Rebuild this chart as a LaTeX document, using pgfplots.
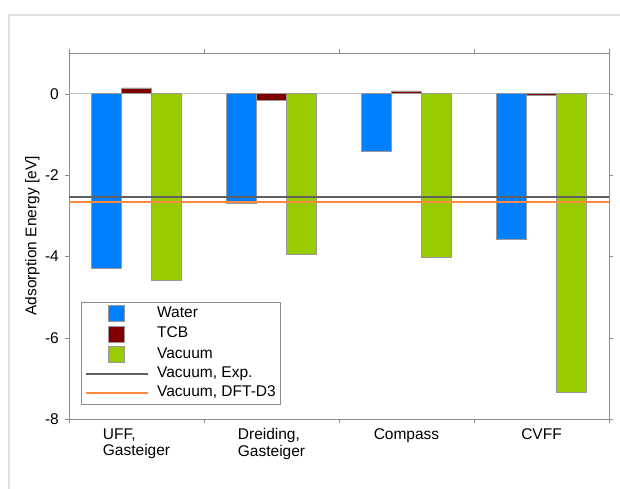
\documentclass[border=0pt]{standalone}
\usepackage{pgfplots}
\usepackage{pgfplotstable}
\pgfplotsset{compat=1.18}
\usepackage{fontspec}
\setmainfont{Liberation Sans}
\definecolor{cWater}{RGB}{0,128,255}
\definecolor{cTCB}{RGB}{128,0,0}
\definecolor{cVac}{RGB}{153,204,0}
\definecolor{cExp}{RGB}{96,96,96}
\definecolor{cDFT}{RGB}{255,136,64}
\pgfplotstableread{
x water tcb vacuum
0 -4.29 0.14 -4.58
1 -2.70 -0.15 -3.94
2 -1.41 0.07 -4.03
3 -3.58 -0.05 -7.33
}\datatable
\begin{document}
\fontsize{15}{17}\selectfont
\begin{tikzpicture}[x=1pt,y=1pt]
\useasboundingbox (0,0) rectangle (620,489);
\draw[black!12, line width=1.2pt] (9,0) -- (9,474) -- (620,474);
\begin{axis}[
  at={(69pt,70pt)}, anchor=south west,
  scale only axis, width=540pt, height=366pt,
  xmin=-0.5, xmax=3.5, ymin=-8, ymax=1,
  /pgf/number format/assume math mode=true,
  font=\fontsize{15.5}{17}\selectfont,
  axis line style={black!45, line width=0.8pt},
  xtick={0,1,2,3},
  xticklabels={{UFF,\\Gasteiger},{Dreiding,\\Gasteiger},{Compass},{CVFF}},
  xticklabel style={align=left, font=\fontsize{15.5}{16.5}\selectfont, anchor=north, yshift=-0.5pt},
  major x tick style={draw=none},
  minor xtick={-0.5,0.5,1.5,2.5,3.5},
  minor tick length=4pt,
  minor x tick style={black!45},
  ytick={-8,-6,-4,-2,0},
  major tick length=4pt,
  tick align=outside,
  y tick style={black!45},
  yticklabel style={xshift=-1pt},
  extra y ticks={0},
  extra y tick labels={},
  extra y tick style={grid=major, major grid style={black!25, line width=0.8pt}, tick style={draw=none}},
  ylabel={Adsorption Energy [eV]},
  ylabel style={at={(axis description cs:-0.068,0.5)}, anchor=center},
  legend style={at={(axis description cs:0.0222,0.041)}, anchor=south west,
    draw=black!45, fill=white, inner xsep=4pt, inner ysep=3pt,
    font=\fontsize{15.5}{17}\selectfont,
    nodes={text height=11pt, text depth=4pt, inner ysep=0pt, inner xsep=0pt},
    row sep=4pt,
    /tikz/every even column/.append style={column sep=9pt},
    /tikz/every odd column/.append style={column sep=8pt}},
  legend cell align=left,
]
\addplot[ybar, bar width=0.222, bar shift=-0.222, fill=cWater, draw=black!40, line width=0.5pt,
  legend image code/.code={\draw[fill=cWater, draw=black!40] (22pt,-8pt) rectangle (38pt,8pt);}]
  table[x=x, y=water] {\datatable};
\addlegendentry{Water}
\addplot[ybar, bar width=0.222, bar shift=0, fill=cTCB, draw=black!40, line width=0.5pt,
  legend image code/.code={\draw[fill=cTCB, draw=black!40] (22pt,-8pt) rectangle (38pt,8pt);}]
  table[x=x, y=tcb] {\datatable};
\addlegendentry{TCB}
\addplot[ybar, bar width=0.222, bar shift=0.222, fill=cVac, draw=black!40, line width=0.5pt,
  legend image code/.code={\draw[fill=cVac, draw=black!40] (22pt,-8pt) rectangle (38pt,8pt);}]
  table[x=x, y=vacuum] {\datatable};
\addlegendentry{Vacuum}
\addplot[color=cExp, line width=2pt, no marks,
  legend image code/.code={\draw[cExp, line width=2pt] (0pt,0pt) -- (62pt,0pt);}]
  coordinates {(-0.5,-2.54) (3.5,-2.54)};
\addlegendentry{Vacuum, Exp.}
\addplot[color=cDFT, line width=1.6pt, no marks,
  legend image code/.code={\draw[cDFT, line width=1.6pt] (0pt,0pt) -- (62pt,0pt);}]
  coordinates {(-0.5,-2.66) (3.5,-2.66)};
\addlegendentry{Vacuum, DFT-D3}
\end{axis}
\end{tikzpicture}
\end{document}
